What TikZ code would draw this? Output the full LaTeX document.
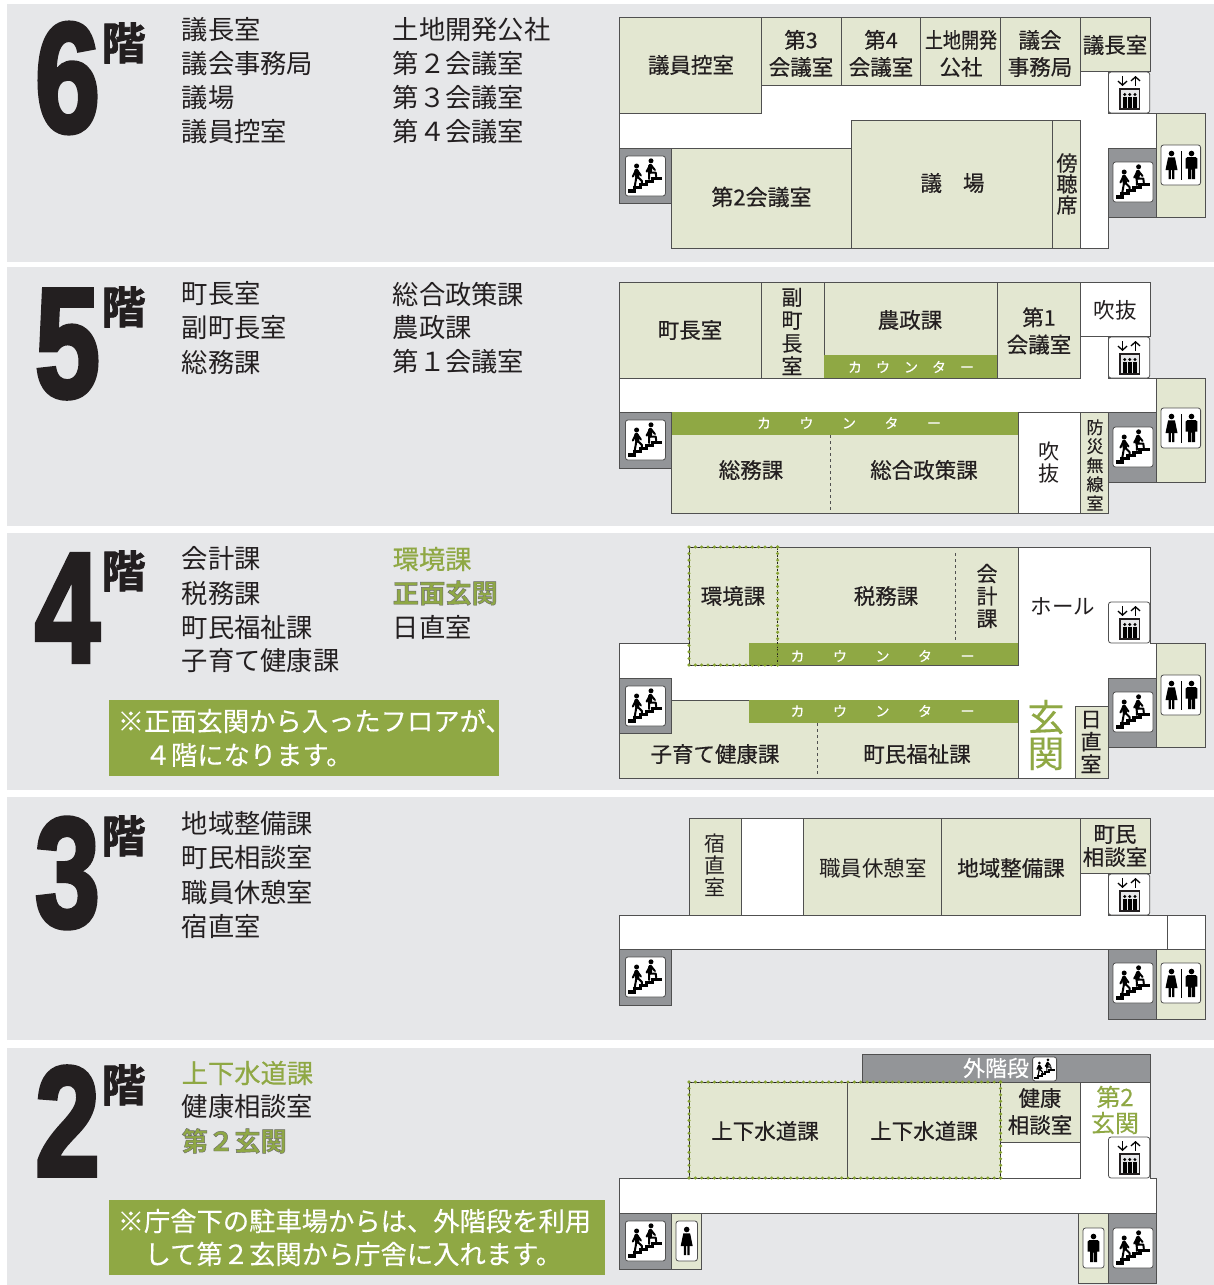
\documentclass[tikz,border=0pt]{standalone}
\usepackage{fontspec}
\usetikzlibrary{arrows.meta}
\setmainfont{Noto Sans CJK JP}
\newfontfamily\fmed[FakeBold=0.5]{Noto Sans CJK JP}
\newfontfamily\flit[FakeBold=0.25]{Noto Sans CJK JP}
\newfontfamily\fdig[UprightFont=* Bold,FakeBold=3]{Liberation Sans}
\newfontfamily\fkai[UprightFont=* Bold,FakeBold=2]{Noto Sans CJK JP}
\newfontfamily\fout[UprightFont=* Bold,FakeBold=1.6]{Noto Sans CJK JP}
\definecolor{panel}{HTML}{E6E7E9}
\definecolor{roomfill}{HTML}{E3E7D1}
\definecolor{olive}{HTML}{8FA844}
\definecolor{dotolive}{HTML}{86A232}
\definecolor{wall}{HTML}{505050}
\definecolor{stairgray}{HTML}{939598}
\definecolor{ink}{HTML}{231F20}
\newcounter{nn}
\newcommand\T[4][lbl]{\stepcounter{nn}\node[#1] (t\arabic{nn}) at (#2,#3) {#4};}
\newcommand\Head[3]{\stepcounter{nn}\node[inner sep=0pt,text=ink] (d\arabic{nn}) at (67.5,#2) {\scalebox{0.75}[1]{\fontsize{156}{156}\selectfont\fdig #1}};
\node[inner sep=0pt,text=ink] (k\arabic{nn}) at (123.5,#3) {\fontsize{44}{44}\selectfont\fkai 階};}
\newcommand\Ctr[4]{\stepcounter{nn}\node[inner sep=0pt,text=white,font=\fontsize{14}{14}\selectfont\flit] (c\arabic{nn}) at (#1,#2) {カ\hspace{#3}ウ\hspace{#3}ン\hspace{#3}タ\hspace{#3}ー};}
\newcommand\Ol[1]{\special{pdf:bc [0.56 0.66 0.27] [0.42 0.42 0.42]}\fout #1\special{pdf:ec}}
% row of olive dots around a rectangle
\newcommand\DotRect[4]{\draw[dotblack] (#1,#2) rectangle (#3,#4);
 \pgfmathsetmacro\nxd{int(round((#3-#1)/6.4))}\pgfmathsetmacro\nyd{int(round((#4-#2)/6.4))}
 \foreach \ii in {0,...,\nxd}{\fill[dotolive] ({#1+(#3-#1)*\ii/\nxd},#2) circle[radius=1.7pt] ({#1+(#3-#1)*\ii/\nxd},#4) circle[radius=1.7pt];}
 \foreach \ii in {0,...,\nyd}{\fill[dotolive] (#1,{#2+(#4-#2)*\ii/\nyd}) circle[radius=1.7pt] (#3,{#2+(#4-#2)*\ii/\nyd}) circle[radius=1.7pt];}}
\tikzset{
 x=1pt,y=-1pt,
 room/.style={draw=wall,fill=roomfill,line width=1pt},
 whitearea/.style={draw=wall,fill=white,line width=1pt},
 stairbox/.style={draw=wall,fill=stairgray,line width=1pt},
 ctrbar/.style={fill=olive},
 notice/.style={fill=olive},
 dashsep/.style={draw=wall,line width=0.7pt,dash pattern=on 3pt off 3pt},
 dotblack/.style={draw=ink,line width=0.5pt,dash pattern=on 2pt off 1.5pt},
 lbl/.style={inner sep=0pt,text=ink,align=center,font=\fontsize{21.5}{27}\selectfont\fmed},
 lblr/.style={lbl,font=\fontsize{21.5}{27}\selectfont},
 vl/.style={lbl,font=\fontsize{21}{22.5}\selectfont\fmed},
 vlr/.style={lbl,font=\fontsize{21}{22}\selectfont},
 lst/.style={inner sep=0pt,anchor=west,text=ink,font=\fontsize{26.3}{26}\selectfont},
 lstg/.style={lst,text=olive,font=\fontsize{26.3}{26}\selectfont\fmed},
 wtx/.style={inner sep=0pt,anchor=west,text=white,font=\fontsize{26.3}{26}\selectfont\flit},
 iconbox/.style={draw=wall,fill=white,line width=0.8pt,rounded corners=2.5pt},
 blk/.style={draw=black,line cap=round,line join=round},
}
\def\ics{1}
\newcommand\StairIcon[3]{\begin{scope}[shift={(#1,#2)},scale=#3]\def\ics{#3}
 \draw[iconbox] (0,0) rectangle (40,40);
 \draw[black,line width=3.2pt*\ics,miter limit=10] (3,35) -- (9,35) -- (9,31.8) -- (15,31.8) -- (15,28.6) -- (21,28.6) -- (21,25.4) -- (27,25.4) -- (27,22.2) -- (37,22.2);
 \fill[black] (11.2,10) circle[radius=2.5] (25.6,4.8) circle[radius=2.5];
 \draw[blk,line width=4.4pt*\ics] (11,15) -- (11.8,20.5);
 \draw[blk,line width=2pt*\ics] (10.6,14) -- (7.4,20.5) (11.6,14) -- (15.5,19.5) (11,21) -- (9.4,30) (12.4,21) -- (16.5,25) -- (16.5,28.5);
 \draw[blk,line width=4.4pt*\ics] (25,10) -- (24.3,15.5);
 \draw[blk,line width=2pt*\ics] (24.6,9.5) -- (21.2,15.5) (25.8,9.5) -- (29.5,14) (23.7,16) -- (23.8,23) (25,16.5) -- (30.3,16.5) -- (30.8,20.5);
\end{scope}}
\newcommand\LiftIcon[2]{\begin{scope}[shift={(#1,#2)}]
 \draw[iconbox] (0,0) rectangle (41.2,41);
 \draw[black,line width=1.3pt,-{Straight Barb[length=4pt,width=9pt]}] (14,4) -- (14,14);
 \draw[black,line width=1.3pt,-{Straight Barb[length=4pt,width=9pt]}] (27,14) -- (27,4);
 \draw[draw=ink,fill=panel,line width=1.6pt] (11.5,17) rectangle (31,37);
 \foreach \xx in {16.2,21.3,26.4}{\fill[black] (\xx,22.5) circle[radius=1.6]; \fill[black] (\xx-1.9,24.5) rectangle (\xx+1.9,35.5);}
\end{scope}}
\newcommand\Woman[2]{\fill[black] (#1,#2+8.5) circle[radius=2.8];
 \fill[black] (#1-3.4,#2+12.3) -- (#1+3.4,#2+12.3) -- (#1+6,#2+25) -- (#1-6,#2+25) -- cycle;
 \fill[black] (#1-2.8,#2+24) rectangle (#1-.6,#2+34) (#1+.6,#2+24) rectangle (#1+2.8,#2+34);}
\newcommand\Man[2]{\fill[black] (#1,#2+8.5) circle[radius=2.8];
 \fill[black] (#1-5.8,#2+13.5) -- (#1-4,#2+12) -- (#1+4,#2+12) -- (#1+5.8,#2+13.5) -- (#1+5.8,#2+23.5) -- (#1+3.5,#2+23.5) -- (#1+3.5,#2+34) -- (#1+.4,#2+34) -- (#1+.4,#2+24.5) -- (#1-.4,#2+24.5) -- (#1-.4,#2+34) -- (#1-3.5,#2+34) -- (#1-3.5,#2+23.5) -- (#1-5.8,#2+23.5) -- cycle;}
\newcommand\WCIcon[2]{\draw[iconbox] (#1,#2) rectangle (#1+39.6,#2+40);
 \Woman{#1+10.5}{#2} \Man{#1+30.5}{#2} \fill[black] (#1+19.8,#2+6) rectangle (#1+20.9,#2+35);}
\begin{document}
\begin{tikzpicture}
\useasboundingbox (0,0) rectangle (1214,1285);
\fill[white] (0,0) rectangle (1214,1285);
\fill[panel] (7,4) rectangle (1214,262);
\fill[panel] (7,267) rectangle (1214,526);
\fill[panel] (7,533) rectangle (1214,790);
\fill[panel] (7,797) rectangle (1214,1040);
\fill[panel] (7,1048) rectangle (1214,1285);
% ---------- headers and lists
\Head{6}{78}{43}
\Head{5}{344}{307}
\Head{4}{608}{571}
\Head{3}{873}{836}
\Head{2}{1121}{1085}
\T[lst]{181.5}{30}{議長室}\T[lst]{181.5}{64}{議会事務局}\T[lst]{181.5}{98}{議場}\T[lst]{181.5}{132}{議員控室}
\T[lst]{392.5}{30}{土地開発公社}\T[lst]{392.5}{64}{第２会議室}\T[lst]{392.5}{98}{第３会議室}\T[lst]{392.5}{132}{第４会議室}
\T[lst]{181.5}{294}{町長室}\T[lst]{181.5}{328}{副町長室}\T[lst]{181.5}{362}{総務課}
\T[lst]{392.5}{294}{総合政策課}\T[lst]{392.5}{328}{農政課}\T[lst]{392.5}{362}{第１会議室}
\T[lst]{181.5}{559}{会計課}\T[lst]{181.5}{593}{税務課}\T[lst]{181.5}{627}{町民福祉課}\T[lst]{181.5}{661}{子育て健康課}
\T[lstg]{392.5}{559}{環境課}\T[lst]{392.5}{593}{\Ol{正面玄関}}\T[lst]{392.5}{627}{日直室}
\T[lst]{181.5}{824}{地域整備課}\T[lst]{181.5}{858}{町民相談室}\T[lst]{181.5}{892}{職員休憩室}\T[lst]{181.5}{926}{宿直室}
\T[lstg]{181.5}{1073}{上下水道課}\T[lst]{181.5}{1107}{健康相談室}\T[lst]{181.5}{1141}{\Ol{第２玄関}}
% notices
\fill[notice] (109,700) rectangle (499,776);
\T[wtx]{117.5}{721}{※正面玄関から入ったフロアが、}
\T[wtx]{144.5}{755}{４階になります。}
\fill[notice] (109,1200) rectangle (605,1275);
\T[wtx]{117.5}{1221}{※庁舎下の駐車場からは、外階段を利用}
\T[wtx]{144.5}{1254}{して第２玄関から庁舎に入れます。}
% ---------- 6F
\draw[whitearea] (761.4,85) -- (1080,85) -- (1080,71) -- (1108.5,71) -- (1108.5,113) -- (1156,113) -- (1156,217) -- (1108.5,217) -- (1108.5,248) -- (1080,248) -- (1080,120) -- (851.5,120) -- (851.5,148) -- (619.6,148) -- (619.6,113) -- (761.4,113) -- cycle;
\draw[room] (619.6,17) rectangle (761.4,113);
\draw[room] (761.4,17) rectangle (841,85);
\draw[room] (841,17) rectangle (920.9,85);
\draw[room] (920.9,17) rectangle (1000.6,85);
\draw[room] (1000.6,17) rectangle (1080,85);
\draw[room] (1080,17) rectangle (1150,71);
\draw[room] (671.6,148) rectangle (851.5,248);
\draw[room] (851.5,120) rectangle (1052.2,248);
\draw[room] (1052.2,120) rectangle (1080,248);
\draw[stairbox] (619.6,148) rectangle (671.6,203);
\draw[stairbox] (1108.5,148) rectangle (1156,217);
\draw[room] (1156,113) rectangle (1205,217);
\StairIcon{625.4}{156}{1}
\StairIcon{1113}{162}{1}
\LiftIcon{1108.5}{72}
\WCIcon{1161}{145}
\T{691}{65}{議員控室}
\T{801}{53.5}{第3\\会議室}
\T{881}{53.5}{第4\\会議室}
\T{961}{53.5}{\scalebox{0.84}[1]{土地開発}\\公社}
\T{1040}{53.5}{議会\\事務局}
\T{1115}{45}{議長室}
\T[lbl,font=\fontsize{22}{27}\selectfont\fmed]{761.5}{197}{第2会議室}
\T{952.5}{183}{議\hspace{21pt}場}
\T[vl,font=\fontsize{21}{21}\selectfont\fmed]{1067}{184}{傍\\聴\\席}
% ---------- 5F
\draw[whitearea] (619.6,378) -- (1080,378) -- (1080,336) -- (1108.5,336) -- (1108.5,378) -- (1156,378) -- (1156,412) -- (619.6,412) -- cycle;
\draw[room] (619.6,282) rectangle (761.4,378);
\draw[room] (761.4,282) rectangle (824,378);
\draw[room] (824,282) rectangle (997,378);
\fill[ctrbar] (824,355) rectangle (997,378);
\draw[room] (997,282) rectangle (1080,378);
\draw[whitearea] (1080,282) rectangle (1150,336);
\draw[stairbox] (619.6,412) rectangle (671.6,468);
\draw[room] (671.6,412) rectangle (1018,513);
\fill[ctrbar] (671.6,412) rectangle (1018,435);
\draw[dashsep] (830.7,435) -- (830.7,510);
\draw[whitearea] (1018,412) rectangle (1080,513);
\draw[room] (1080,412) rectangle (1108.5,513);
\draw[stairbox] (1108.5,412) rectangle (1156,482);
\draw[room] (1156,378) rectangle (1205,482);
\StairIcon{625.4}{420}{1}
\StairIcon{1113}{427}{1}
\LiftIcon{1108.5}{337}
\WCIcon{1161}{408}
\T{690}{330}{町長室}
\T[vl,font=\fontsize{21}{23}\selectfont\fmed]{792}{331.5}{副\\町\\長\\室}
\T{910}{320}{農政課}
\T{1039}{331}{第1\\会議室}
\T[lblr]{1115}{310}{吹抜}
\T{751}{470}{総務課}
\T{924}{470}{総合政策課}
\T[vlr]{1049}{463}{吹\\抜}
\T[vl,font=\fontsize{17}{19}\selectfont\fmed]{1095}{465}{防\\災\\無\\線\\室}
\Ctr{911}{367}{14pt}{}
\Ctr{849}{423}{28.5pt}{}
% ---------- 4F
\draw[whitearea] (1018,547) -- (1150,547) -- (1150,643) -- (1156,643) -- (1156,747) -- (1108.5,747) -- (1108.5,778) -- (1018,778) -- (1018,700) -- (671.6,700) -- (671.6,678) -- (619.6,678) -- (619.6,643) -- (689,643) -- (689,665) -- (1018,665) -- cycle;
\draw[room] (689,547) -- (1018,547) -- (1018,643) -- (777.6,643) -- (777.6,665) -- (689,665) -- cycle;
\fill[ctrbar] (748.7,643) rectangle (1018,665);
\draw[dashsep] (955.5,553) -- (955.5,641);
\draw[room] (671.6,700) -- (1018,700) -- (1018,778) -- (619.6,778) -- (619.6,733) -- (671.6,733) -- cycle;
\fill[ctrbar] (748.7,700) rectangle (1018,723);
\draw[dashsep] (817,723) -- (817,775);
\draw[room] (1075,706) rectangle (1108.5,778);
\draw[stairbox] (619.6,678) rectangle (671.6,733);
\draw[stairbox] (1108.5,678) rectangle (1156,747);
\draw[room] (1156,643) rectangle (1205,747);
\DotRect{689}{547}{777.6}{665}
\StairIcon{625.4}{686}{1}
\StairIcon{1113}{692}{1}
\LiftIcon{1108.5}{602}
\WCIcon{1161}{675}
\T{733}{596}{環境課}
\T{886}{596}{税務課}
\T[vl]{987}{596}{会\\計\\課}
\T[lblr]{1063}{606}{ホール}
\T{715}{754}{子育て健康課}
\T{917}{754}{町民福祉課}
\T[vl]{1091}{742}{日\\直\\室}
\T[lbl,text=olive,font=\fontsize{37}{36}\selectfont\flit]{1046}{735}{玄\\関}
\Ctr{882.5}{656}{28.5pt}{}
\Ctr{882.5}{711}{28.5pt}{}
% ---------- 3F
\draw[whitearea] (619.6,915) -- (1080,915) -- (1080,873) -- (1108.5,873) -- (1108.5,915) -- (1205,915) -- (1205,949) -- (619.6,949) -- cycle;
\draw[draw=wall,line width=1pt] (1167,915) -- (1167,949);
\draw[room] (689,818) rectangle (741,915);
\draw[whitearea] (741,818) rectangle (803.4,915);
\draw[room] (803.4,818) rectangle (941.7,915);
\draw[room] (941.7,818) rectangle (1080,915);
\draw[room] (1080,818) rectangle (1150,873);
\draw[stairbox] (619.6,949) rectangle (671.6,1005);
\draw[stairbox] (1108.5,949) rectangle (1156,1019);
\draw[room] (1156,949) rectangle (1205,1019);
\StairIcon{625.4}{957}{1}
\StairIcon{1113}{963}{1}
\LiftIcon{1108.5}{874}
\WCIcon{1161}{963}
\T[vlr]{715}{865}{宿\\直\\室}
\T[lblr]{873}{868}{職員休憩室}
\T{1011}{868}{地域整備課}
\T[lbl,font=\fontsize{21.5}{23}\selectfont\fmed]{1115}{846}{町民\\相談室}
% ---------- 2F
\draw[stairbox] (862.3,1054) rectangle (1150,1082);
\draw[whitearea] (619.6,1178) -- (1080,1178) -- (1080,1082) -- (1150,1082) -- (1150,1178) -- (1156,1178) -- (1156,1213) -- (619.6,1213) -- cycle;
\draw[room] (689,1082) rectangle (847.7,1178);
\draw[room] (847.7,1082) rectangle (1000.6,1178);
\draw[room] (1000.6,1082) rectangle (1080,1142);
\draw[whitearea] (1000.6,1142) rectangle (1080,1178);
\DotRect{689}{1082}{1000.6}{1178}
\draw[stairbox] (619.6,1213) rectangle (671.6,1269);
\draw[room] (671.6,1213) rectangle (701.7,1269);
\draw[room] (1078.8,1213) rectangle (1108.5,1283);
\draw[stairbox] (1108.5,1213) rectangle (1156,1283);
\StairIcon{625.4}{1221}{1}
\StairIcon{1113}{1228}{1}
\StairIcon{1032.6}{1057}{0.6}
\LiftIcon{1108.5}{1137}
\draw[iconbox] (676,1221) rectangle (697.4,1261);
\Woman{686.7}{1221}
\draw[iconbox] (1083,1228) rectangle (1104,1268);
\Man{1093.5}{1228}
\T{765}{1131}{上下水道課}
\T{924}{1131}{上下水道課}
\T{1040}{1111.5}{健康\\相談室}
\T[lbl,text=olive,font=\fontsize{24}{26}\selectfont\flit]{1115}{1110}{第2\\玄関}
\T[lbl,text=white,font=\fontsize{22}{22}\selectfont\flit]{996}{1068}{外階段}
\end{tikzpicture}
\end{document}
